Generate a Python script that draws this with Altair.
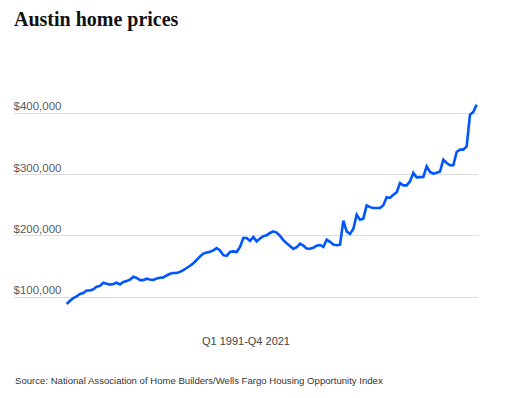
import altair as alt
import pandas as pd

# Quarterly median home price (thousands of dollars), Q1 1991 - Q4 2021
prices_k = [
    88.1, 93.5, 97.6, 100.7, 104.4, 106.0, 110.2, 110.2, 112.0, 116.3,
    117.6, 122.8, 121.3, 119.8, 120.7, 122.8, 120.0, 124.0, 125.7, 127.7,
    132.6, 130.5, 127.0, 127.1, 129.4, 128.2, 127.4, 129.6, 130.8, 131.5,
    134.6, 137.3, 138.7, 138.7, 140.5, 143.5, 146.8, 150.5, 154.5, 159.9,
    165.6, 170.3, 171.9, 173.2, 175.6, 179.4, 175.4, 167.7, 166.5, 172.9,
    173.9, 172.9, 181.2, 195.7, 195.7, 191.0, 197.4, 190.2, 194.8, 198.8,
    200.0, 203.9, 206.5, 204.6, 199.2, 192.2, 187.3, 182.8, 177.8, 180.6,
    186.4, 183.2, 178.6, 178.1, 179.9, 183.2, 184.3, 181.1, 193.0, 189.5,
    185.0, 184.0, 184.8, 224.0, 206.5, 202.3, 210.4, 233.7, 225.6, 227.2,
    248.9, 246.0, 244.7, 244.7, 244.7, 249.0, 262.0, 261.0, 266.4, 270.1,
    285.4, 281.5, 281.5, 288.1, 301.8, 294.6, 295.0, 295.3, 312.5, 303.4,
    300.6, 302.0, 304.0, 323.4, 318.0, 314.2, 314.2, 336.0, 339.8, 339.8,
    345.1, 396.8, 401.2, 413.1,
]
quarters = [f"Q{q} {y}" for y in range(1991, 2022) for q in range(1, 5)]
y_ticks = [100000, 200000, 300000, 400000]
title_text = "Austin home prices"
x_title = "Q1 1991-Q4 2021"
source_text = ["Source: National Association of Home Builders/Wells Fargo Housing Opportunity Index"]

df = pd.DataFrame({
    "quarter": quarters,
    "idx": list(range(len(prices_k))),
    "price": [p * 1000 for p in prices_k],
})

line = alt.Chart(df).mark_line(color="#0055ff", strokeWidth=2.6).encode(
    x=alt.X(
        "idx:Q",
        scale=alt.Scale(domain=[-16.1, 123.4], nice=False, zero=False),
        axis=alt.Axis(
            title=x_title, labels=False, ticks=False, domain=False, grid=False,
            titleFont="Liberation Sans", titleFontSize=11, titleFontWeight="normal",
            titleColor="#444444", titlePadding=8,
        ),
    ),
    y=alt.Y(
        "price:Q",
        scale=alt.Scale(domain=[50000, 450000], nice=False, zero=False),
        axis=alt.Axis(
            values=y_ticks, format="$,.0f", title=None, domain=False, ticks=False,
            tickSize=0, labelAlign="left", labelBaseline="bottom", labelPadding=0,
            labelOffset=-1, labelFont="Liberation Sans", labelFontSize=11.5,
            labelColor="#5a5a5a", grid=True, gridColor="#dddddd", gridWidth=1,
        ),
    ),
)

source = alt.Chart(pd.DataFrame({"t": source_text})).mark_text(
    align="left", baseline="middle", font="Liberation Sans", fontSize=9.6, color="#333333"
).encode(x=alt.value(2), y=alt.value(299), text="t:N")

chart = (
    alt.layer(line, source)
    .properties(
        width=465,
        height=245.4,
        autosize=alt.AutoSizeParams(type="none"),
        padding={"left": 5, "top": 74, "right": 26, "bottom": 62},
        title=alt.TitleParams(
            title_text, anchor="start", font="Liberation Serif", fontSize=20,
            fontWeight="bold", color="#111111", offset=52, dx=1,
        ),
    )
    .configure(background="white")
    .configure_view(strokeWidth=0, stroke="transparent")
)

chart.save("out.html", embed_options={"renderer": "svg", "actions": False})
